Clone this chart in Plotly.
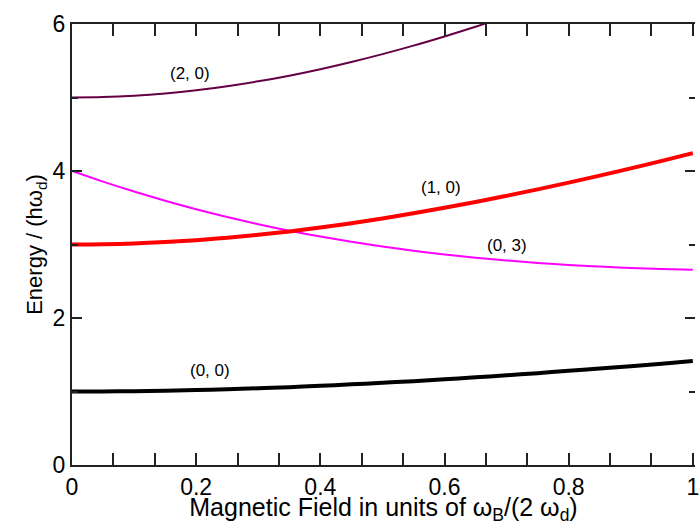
import plotly.graph_objects as go

# Field values (omega_B / (2 omega_d))
field = [0.00, 0.05, 0.10, 0.15, 0.20, 0.25, 0.30, 0.35, 0.40, 0.45, 0.50,
         0.55, 0.60, 0.65, 0.70, 0.75, 0.80, 0.85, 0.90, 0.95, 1.00]

# Energies (units of h omega_d)
e_00 = [1.000, 1.001, 1.005, 1.011, 1.020, 1.031, 1.044, 1.059, 1.077, 1.097, 1.118,
        1.141, 1.166, 1.193, 1.221, 1.250, 1.281, 1.312, 1.345, 1.379, 1.414]
e_10 = [3.000, 3.004, 3.015, 3.034, 3.059, 3.092, 3.132, 3.178, 3.231, 3.290, 3.354,
        3.424, 3.499, 3.578, 3.662, 3.750, 3.842, 3.937, 4.036, 4.138, 4.243]
e_03 = [4.000, 3.855, 3.720, 3.595, 3.479, 3.373, 3.276, 3.188, 3.108, 3.036, 2.972,
        2.915, 2.865, 2.821, 2.783, 2.750, 2.722, 2.700, 2.681, 2.667, 2.657]
field_20 = [0.00, 0.05, 0.10, 0.15, 0.20, 0.25, 0.30, 0.35, 0.40, 0.45, 0.50,
            0.55, 0.60, 0.65, 0.70]
e_20 = [5.000, 5.006, 5.025, 5.056, 5.099, 5.154, 5.220, 5.297, 5.385, 5.483, 5.590,
        5.706, 5.831, 5.963, 6.103]

labels = ["(2, 0)", "(1, 0)", "(0, 3)", "(0, 0)"]
label_x = [0.19, 0.595, 0.70, 0.222]
label_y = [5.32, 3.77, 2.99, 1.29]

x_ticks = [0, 0.2, 0.4, 0.6, 0.8, 1.0]
x_tick_text = ["0", "0.2", "0.4", "0.6", "0.8", "1"]
y_ticks = [0, 2, 4, 6]

FONT = "Liberation Sans, Arial, Helvetica, sans-serif"
AX = "#222"

fig = go.Figure()
fig.add_trace(go.Scatter(x=field_20, y=e_20, mode="lines", line=dict(color="#660044", width=2, shape="spline")))
fig.add_trace(go.Scatter(x=field, y=e_03, mode="lines", line=dict(color="#ff00ff", width=2, shape="spline")))
fig.add_trace(go.Scatter(x=field, y=e_10, mode="lines", line=dict(color="#ff0000", width=4, shape="spline")))
fig.add_trace(go.Scatter(x=field, y=e_00, mode="lines", line=dict(color="#000000", width=4, shape="spline")))
# invisible copy on the right-hand axis so its tick marks get drawn
fig.add_trace(go.Scatter(x=field, y=e_00, mode="lines", yaxis="y2", opacity=0,
                         hoverinfo="skip", line=dict(color="rgba(0,0,0,0)")))

for t, x, y in zip(labels, label_x, label_y):
    fig.add_annotation(x=x, y=y, text=t, showarrow=False,
                       font=dict(family=FONT, size=17, color="black"))

fig.update_layout(
    width=699, height=525,
    margin=dict(l=72, r=0, t=24, b=60),
    plot_bgcolor="white", paper_bgcolor="white",
    showlegend=False,
    font=dict(family=FONT, color="black"),
)
fig.update_xaxes(
    range=[0, 1.0035], tickvals=x_ticks, ticktext=x_tick_text,
    ticks="inside", ticklen=12, tickwidth=1.5, tickcolor=AX,
    minor=dict(dtick=0.2/3, tick0=0, ticks="inside", ticklen=6, tickwidth=1.5, tickcolor=AX),
    showline=True, linecolor=AX, linewidth=2, mirror="allticks",
    showgrid=False, zeroline=False, ticklabeloverflow="allow",
    tickfont=dict(family=FONT, size=23),
    title=dict(text="Magnetic Field in units of ω<sub>B</sub>/(2 ω<sub>d</sub>)",
               font=dict(family=FONT, size=25), standoff=3),
)
fig.update_layout(
    yaxis=dict(
        range=[0, 6], tickvals=y_ticks,
        ticks="inside", ticklen=10, tickwidth=1.5, tickcolor=AX,
        minor=dict(dtick=1, tick0=0, ticks="inside", ticklen=6, tickwidth=1.5, tickcolor=AX),
        showline=True, linecolor=AX, linewidth=2, mirror=False,
        showgrid=False, zeroline=False,
        tickfont=dict(family=FONT, size=23),
        title=dict(text="Energy / (hω<sub>d</sub>)", font=dict(family=FONT, size=22), standoff=4),
    ),
    yaxis2=dict(
        range=[0, 6], tickvals=y_ticks, overlaying="y", side="right",
        ticks="inside", ticklen=10, tickwidth=1.5, tickcolor=AX,
        minor=dict(dtick=1, tick0=0, ticks="inside", ticklen=6, tickwidth=1.5, tickcolor=AX),
        showline=False, showgrid=False, zeroline=False, showticklabels=False,
    ),
)

fig.write_html("out.html")
